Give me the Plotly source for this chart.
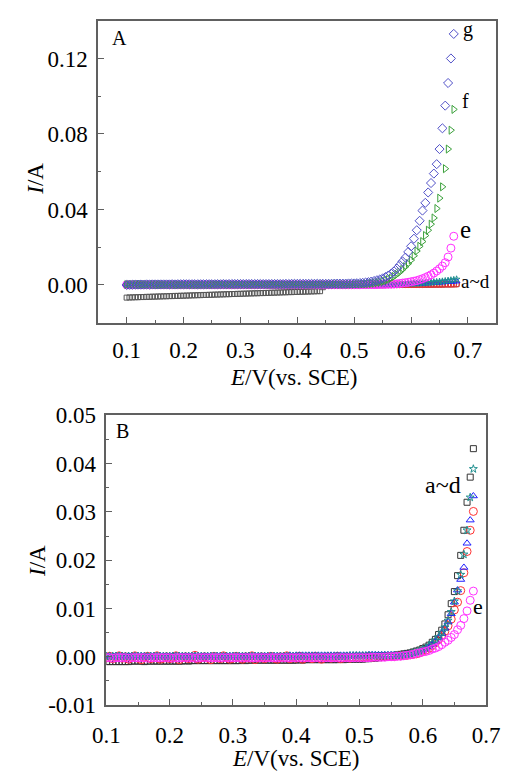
import plotly.graph_objects as go

# ---------------- data ----------------
E = [0.100, 0.105, 0.110, 0.115, 0.120, 0.125, 0.130, 0.135, 0.140, 0.145,
     0.150, 0.155, 0.160, 0.165, 0.170, 0.175, 0.180, 0.185, 0.190, 0.195,
     0.200, 0.205, 0.210, 0.215, 0.220, 0.225, 0.230, 0.235, 0.240, 0.245,
     0.250, 0.255, 0.260, 0.265, 0.270, 0.275, 0.280, 0.285, 0.290, 0.295,
     0.300, 0.305, 0.310, 0.315, 0.320, 0.325, 0.330, 0.335, 0.340, 0.345,
     0.350, 0.355, 0.360, 0.365, 0.370, 0.375, 0.380, 0.385, 0.390, 0.395,
     0.400, 0.405, 0.410, 0.415, 0.420, 0.425, 0.430, 0.435, 0.440, 0.445,
     0.450, 0.455, 0.460, 0.465, 0.470, 0.475, 0.480, 0.485, 0.490, 0.495,
     0.500, 0.505, 0.510, 0.515, 0.520, 0.525, 0.530, 0.535, 0.540, 0.545,
     0.550, 0.555, 0.560, 0.565, 0.570, 0.575, 0.580, 0.585, 0.590, 0.595,
     0.600, 0.605, 0.610, 0.615, 0.620, 0.625, 0.630, 0.635, 0.640, 0.645,
     0.650, 0.655, 0.660, 0.665, 0.670, 0.675, 0.680]

# Panel A currents (A)
IA_a = [-0.0067, -0.0066, -0.0066, -0.0065, -0.0065, -0.0064, -0.0064, -0.0063, -0.0063, -0.0062,
        -0.0062, -0.0061, -0.0061, -0.0060, -0.0060, -0.0059, -0.0059, -0.0058, -0.0058, -0.0057,
        -0.0057, -0.0056, -0.0056, -0.0055, -0.0055, -0.0054, -0.0054, -0.0053, -0.0053, -0.0052,
        -0.0052, -0.0051, -0.0051, -0.0050, -0.0050, -0.0049, -0.0049, -0.0048, -0.0048, -0.0047,
        -0.0047, -0.0046, -0.0046, -0.0045, -0.0045, -0.0044, -0.0044, -0.0043, -0.0043, -0.0042,
        -0.0042, -0.0041, -0.0041, -0.0040, -0.0040, -0.0039, -0.0039, -0.0038, -0.0038, -0.0037,
        -0.0037, -0.0036, -0.0036, -0.0035, -0.0035, -0.0034, -0.0034, -0.0033, -0.0033, -0.0012,
        -0.0004, -0.0003, -0.0003, -0.0002, -0.0002, -0.0002, -0.0002, -0.0002, -0.0002, -0.0001,
        -0.0001, -0.0001, -0.0001, -0.0001, -0.0001, -0.0001, -0.0001, -0.0001, -0.0001, -0.0001,
        -0.0001, 0.0000, 0.0000, 0.0000, 0.0000, 0.0000, 0.0000, 0.0000, 0.0000, 0.0000,
        0.0000, 0.0000, 0.0000, 0.0001, 0.0001, 0.0001, 0.0001, 0.0001, 0.0002, 0.0002,
        0.0002, 0.0002, 0.0003, 0.0003, 0.0003, 0.0004, 0.0004]
IA_b = [0.0000, 0.0001, 0.0000, 0.0001, 0.0000, 0.0001, 0.0001, 0.0000, 0.0001, 0.0001,
        0.0001, 0.0001, 0.0000, 0.0001, 0.0001, 0.0001, 0.0001, 0.0001, 0.0001, 0.0001,
        0.0001, 0.0001, 0.0001, 0.0001, 0.0001, 0.0001, 0.0001, 0.0001, 0.0001, 0.0001,
        0.0001, 0.0001, 0.0001, 0.0001, 0.0001, 0.0001, 0.0001, 0.0001, 0.0001, 0.0001,
        0.0001, 0.0001, 0.0001, 0.0001, 0.0001, 0.0001, 0.0001, 0.0001, 0.0001, 0.0001,
        0.0001, 0.0001, 0.0001, 0.0001, 0.0001, 0.0001, 0.0001, 0.0001, 0.0001, 0.0001,
        0.0001, 0.0001, 0.0001, 0.0001, 0.0001, 0.0001, 0.0001, 0.0001, 0.0001, 0.0001,
        0.0001, 0.0001, 0.0001, 0.0001, 0.0001, 0.0001, 0.0001, 0.0001, 0.0001, 0.0001,
        0.0001, 0.0001, 0.0001, 0.0001, 0.0001, 0.0001, 0.0001, 0.0001, 0.0001, 0.0001,
        0.0001, 0.0001, 0.0001, 0.0001, 0.0001, 0.0001, 0.0001, 0.0002, 0.0002, 0.0002,
        0.0002, 0.0002, 0.0002, 0.0002, 0.0002, 0.0003, 0.0003, 0.0003, 0.0003, 0.0003,
        0.0003, 0.0003, 0.0004, 0.0004, 0.0004, 0.0004, 0.0005]
IA_c = [0.0002, 0.0002, 0.0002, 0.0002, 0.0002, 0.0002, 0.0002, 0.0002, 0.0002, 0.0002,
        0.0002, 0.0002, 0.0002, 0.0002, 0.0002, 0.0002, 0.0002, 0.0002, 0.0002, 0.0002,
        0.0002, 0.0002, 0.0002, 0.0002, 0.0002, 0.0002, 0.0002, 0.0002, 0.0002, 0.0002,
        0.0002, 0.0002, 0.0002, 0.0002, 0.0002, 0.0002, 0.0002, 0.0002, 0.0002, 0.0002,
        0.0002, 0.0002, 0.0002, 0.0002, 0.0002, 0.0002, 0.0002, 0.0002, 0.0002, 0.0002,
        0.0002, 0.0002, 0.0002, 0.0002, 0.0002, 0.0002, 0.0002, 0.0002, 0.0002, 0.0002,
        0.0002, 0.0002, 0.0002, 0.0002, 0.0002, 0.0002, 0.0002, 0.0002, 0.0002, 0.0002,
        0.0002, 0.0002, 0.0002, 0.0002, 0.0002, 0.0002, 0.0002, 0.0002, 0.0002, 0.0002,
        0.0003, 0.0003, 0.0003, 0.0003, 0.0003, 0.0003, 0.0003, 0.0003, 0.0003, 0.0003,
        0.0003, 0.0003, 0.0003, 0.0003, 0.0004, 0.0004, 0.0004, 0.0004, 0.0005, 0.0005,
        0.0005, 0.0006, 0.0006, 0.0007, 0.0007, 0.0008, 0.0009, 0.0010, 0.0011, 0.0012,
        0.0013, 0.0014, 0.0015, 0.0016, 0.0017, 0.0018, 0.0019]
IA_d = [0.0001, 0.0001, 0.0001, 0.0001, 0.0001, 0.0001, 0.0001, 0.0001, 0.0001, 0.0001,
        0.0001, 0.0001, 0.0001, 0.0001, 0.0001, 0.0001, 0.0001, 0.0001, 0.0001, 0.0001,
        0.0001, 0.0001, 0.0001, 0.0001, 0.0001, 0.0001, 0.0001, 0.0001, 0.0001, 0.0001,
        0.0001, 0.0001, 0.0001, 0.0001, 0.0001, 0.0001, 0.0001, 0.0001, 0.0001, 0.0001,
        0.0001, 0.0001, 0.0001, 0.0001, 0.0001, 0.0001, 0.0001, 0.0001, 0.0001, 0.0001,
        0.0001, 0.0001, 0.0001, 0.0001, 0.0001, 0.0001, 0.0001, 0.0001, 0.0001, 0.0001,
        0.0001, 0.0001, 0.0001, 0.0001, 0.0001, 0.0001, 0.0001, 0.0001, 0.0001, 0.0001,
        0.0001, 0.0001, 0.0001, 0.0001, 0.0001, 0.0001, 0.0001, 0.0001, 0.0001, 0.0001,
        0.0001, 0.0001, 0.0001, 0.0001, 0.0002, 0.0002, 0.0002, 0.0002, 0.0002, 0.0002,
        0.0002, 0.0002, 0.0003, 0.0003, 0.0003, 0.0004, 0.0004, 0.0005, 0.0005, 0.0006,
        0.0006, 0.0007, 0.0008, 0.0009, 0.0010, 0.0011, 0.0012, 0.0013, 0.0015, 0.0016,
        0.0018, 0.0019, 0.0021, 0.0023, 0.0025, 0.0027, 0.0030]
IA_e = [0.0001, 0.0001, 0.0001, 0.0001, 0.0001, 0.0001, 0.0001, 0.0001, 0.0001, 0.0001,
        0.0001, 0.0001, 0.0001, 0.0001, 0.0001, 0.0001, 0.0001, 0.0001, 0.0001, 0.0001,
        0.0001, 0.0001, 0.0001, 0.0001, 0.0001, 0.0001, 0.0001, 0.0001, 0.0001, 0.0001,
        0.0001, 0.0001, 0.0001, 0.0001, 0.0001, 0.0001, 0.0001, 0.0001, 0.0001, 0.0001,
        0.0001, 0.0001, 0.0001, 0.0001, 0.0001, 0.0001, 0.0001, 0.0001, 0.0001, 0.0001,
        0.0001, 0.0001, 0.0001, 0.0001, 0.0001, 0.0001, 0.0001, 0.0001, 0.0001, 0.0001,
        0.0001, 0.0001, 0.0001, 0.0001, 0.0001, 0.0001, 0.0001, 0.0001, 0.0001, 0.0001,
        0.0001, 0.0001, 0.0001, 0.0001, 0.0001, 0.0001, 0.0001, 0.0001, 0.0001, 0.0001,
        0.0001, 0.0001, 0.0001, 0.0002, 0.0002, 0.0002, 0.0002, 0.0002, 0.0002, 0.0003,
        0.0003, 0.0003, 0.0004, 0.0004, 0.0005, 0.0006, 0.0008, 0.0010, 0.0012, 0.0014,
        0.0017, 0.0020, 0.0023, 0.0028, 0.0033, 0.0039, 0.0046, 0.0054, 0.0063, 0.0074,
        0.0086, 0.0100, 0.0118, 0.0148, 0.0195, 0.0258]
IA_f = [0.0002, 0.0002, 0.0002, 0.0002, 0.0002, 0.0002, 0.0002, 0.0002, 0.0002, 0.0002,
        0.0002, 0.0002, 0.0002, 0.0002, 0.0002, 0.0002, 0.0002, 0.0002, 0.0002, 0.0002,
        0.0002, 0.0002, 0.0002, 0.0002, 0.0002, 0.0002, 0.0002, 0.0002, 0.0002, 0.0002,
        0.0003, 0.0003, 0.0003, 0.0003, 0.0003, 0.0003, 0.0003, 0.0003, 0.0003, 0.0003,
        0.0003, 0.0003, 0.0003, 0.0003, 0.0003, 0.0003, 0.0003, 0.0003, 0.0003, 0.0003,
        0.0003, 0.0003, 0.0003, 0.0003, 0.0003, 0.0003, 0.0003, 0.0003, 0.0003, 0.0003,
        0.0003, 0.0003, 0.0003, 0.0003, 0.0003, 0.0003, 0.0003, 0.0003, 0.0004, 0.0004,
        0.0004, 0.0004, 0.0004, 0.0004, 0.0004, 0.0004, 0.0004, 0.0004, 0.0004, 0.0004,
        0.0004, 0.0005, 0.0005, 0.0006, 0.0006, 0.0007, 0.0008, 0.0010, 0.0012, 0.0015,
        0.0018, 0.0023, 0.0029, 0.0036, 0.0045, 0.0056, 0.0068, 0.0082, 0.0097, 0.0113,
        0.0132, 0.0155, 0.0180, 0.0205, 0.0230, 0.0262, 0.0290, 0.0322, 0.0355, 0.0405,
        0.0460, 0.0520, 0.0616, 0.0720, 0.0820, 0.0930]
IA_g = [0.0000, 0.0001, 0.0001, 0.0002, 0.0002, 0.0002, 0.0002, 0.0003, 0.0002, 0.0003,
        0.0003, 0.0003, 0.0003, 0.0003, 0.0003, 0.0003, 0.0004, 0.0003, 0.0004, 0.0004,
        0.0004, 0.0004, 0.0004, 0.0004, 0.0004, 0.0004, 0.0004, 0.0004, 0.0004, 0.0004,
        0.0004, 0.0004, 0.0004, 0.0004, 0.0005, 0.0004, 0.0005, 0.0005, 0.0005, 0.0005,
        0.0005, 0.0005, 0.0005, 0.0005, 0.0005, 0.0005, 0.0005, 0.0005, 0.0005, 0.0005,
        0.0005, 0.0005, 0.0005, 0.0005, 0.0005, 0.0005, 0.0006, 0.0005, 0.0006, 0.0006,
        0.0006, 0.0006, 0.0006, 0.0006, 0.0006, 0.0006, 0.0006, 0.0006, 0.0006, 0.0006,
        0.0006, 0.0006, 0.0006, 0.0007, 0.0007, 0.0007, 0.0007, 0.0007, 0.0008, 0.0008,
        0.0008, 0.0009, 0.0010, 0.0011, 0.0013, 0.0015, 0.0018, 0.0021, 0.0025, 0.0029,
        0.0035, 0.0042, 0.0050, 0.0060, 0.0072, 0.0087, 0.0105, 0.0125, 0.0145, 0.0175,
        0.0205, 0.0245, 0.0290, 0.0340, 0.0394, 0.0435, 0.0490, 0.0540, 0.0590, 0.0640,
        0.0720, 0.0830, 0.0950, 0.1070, 0.1200, 0.1330]

# Panel B currents (A)
IB_a = [-0.0010, -0.0010, -0.0010, -0.0010, -0.0010, -0.0010, -0.0010, -0.0010, -0.0009, -0.0009,
        -0.0009, -0.0009, -0.0010, -0.0009, -0.0009, -0.0009, -0.0009, -0.0009, -0.0009, -0.0009,
        -0.0009, -0.0009, -0.0009, -0.0009, -0.0009, -0.0008, -0.0009, -0.0008, -0.0008, -0.0008,
        -0.0008, -0.0008, -0.0008, -0.0008, -0.0008, -0.0008, -0.0008, -0.0008, -0.0008, -0.0008,
        -0.0008, -0.0008, -0.0008, -0.0007, -0.0008, -0.0007, -0.0007, -0.0007, -0.0007, -0.0007,
        -0.0007, -0.0007, -0.0007, -0.0007, -0.0007, -0.0007, -0.0007, -0.0007, -0.0007, -0.0007,
        -0.0007, -0.0006, -0.0007, -0.0006, -0.0006, -0.0006, -0.0006, -0.0006, -0.0006, -0.0006,
        -0.0006, -0.0006, -0.0006, -0.0006, -0.0005, -0.0006, -0.0005, -0.0005, -0.0005, -0.0005,
        -0.0005, -0.0005, -0.0004, -0.0004, -0.0003, -0.0003, -0.0002, -0.0001, 0.0000, 0.0001,
        0.0002, 0.0003, 0.0004, 0.0005, 0.0006, 0.0007, 0.0008, 0.0010, 0.0012, 0.0014,
        0.0017, 0.0020, 0.0024, 0.0030, 0.0036, 0.0046, 0.0055, 0.0068, 0.0087, 0.0110,
        0.0135, 0.0168, 0.0210, 0.0262, 0.0320, 0.0372, 0.0431]
IB_b = [-0.0002, 0.0001, -0.0004, -0.0001, 0.0002, -0.0003, 0.0000, -0.0005, -0.0001, 0.0002,
        -0.0003, -0.0006, -0.0001, 0.0001, -0.0004, -0.0002, 0.0002, -0.0005, -0.0003, 0.0000,
        -0.0004, -0.0001, 0.0002, -0.0006, -0.0002, 0.0000, -0.0004, -0.0001, 0.0003, -0.0005,
        -0.0002, 0.0000, -0.0003, -0.0006, 0.0001, -0.0002, -0.0004, 0.0002, -0.0001, -0.0005,
        -0.0003, 0.0001, -0.0002, -0.0005, 0.0000, -0.0003, 0.0002, -0.0006, -0.0002, 0.0000,
        -0.0004, -0.0001, 0.0001, -0.0003, -0.0005, 0.0000, -0.0002, 0.0002, -0.0004, -0.0001,
        -0.0003, 0.0001, -0.0005, -0.0002, 0.0000, -0.0004, 0.0001, -0.0002, -0.0005, -0.0001,
        0.0000, -0.0003, -0.0001, 0.0001, -0.0004, -0.0002, 0.0000, -0.0003, -0.0001, 0.0000,
        -0.0002, 0.0000, -0.0001, 0.0001, -0.0001, 0.0000, 0.0001, 0.0000, 0.0001, 0.0001,
        0.0001, 0.0001, 0.0002, 0.0002, 0.0003, 0.0003, 0.0004, 0.0005, 0.0006, 0.0008,
        0.0011, 0.0014, 0.0018, 0.0023, 0.0029, 0.0036, 0.0044, 0.0053, 0.0064, 0.0078,
        0.0097, 0.0113, 0.0137, 0.0174, 0.0218, 0.0262, 0.0301]
IB_c = [0.0002, 0.0002, 0.0001, 0.0002, 0.0002, 0.0002, 0.0001, 0.0002, 0.0002, 0.0002,
        0.0002, 0.0002, 0.0002, 0.0001, 0.0002, 0.0002, 0.0002, 0.0002, 0.0002, 0.0002,
        0.0002, 0.0002, 0.0002, 0.0002, 0.0002, 0.0002, 0.0002, 0.0002, 0.0002, 0.0002,
        0.0002, 0.0002, 0.0002, 0.0002, 0.0002, 0.0002, 0.0002, 0.0002, 0.0002, 0.0002,
        0.0002, 0.0002, 0.0002, 0.0002, 0.0002, 0.0002, 0.0002, 0.0002, 0.0002, 0.0002,
        0.0002, 0.0002, 0.0002, 0.0002, 0.0002, 0.0002, 0.0002, 0.0002, 0.0003, 0.0002,
        0.0003, 0.0003, 0.0003, 0.0003, 0.0003, 0.0003, 0.0003, 0.0003, 0.0003, 0.0003,
        0.0003, 0.0003, 0.0003, 0.0003, 0.0003, 0.0003, 0.0003, 0.0003, 0.0003, 0.0003,
        0.0003, 0.0003, 0.0003, 0.0004, 0.0004, 0.0004, 0.0004, 0.0004, 0.0004, 0.0004,
        0.0004, 0.0004, 0.0004, 0.0004, 0.0005, 0.0005, 0.0006, 0.0007, 0.0009, 0.0011,
        0.0014, 0.0017, 0.0021, 0.0026, 0.0032, 0.0039, 0.0048, 0.0059, 0.0072, 0.0089,
        0.0113, 0.0138, 0.0160, 0.0185, 0.0235, 0.0283, 0.0333]
IB_d = [0.0001, 0.0001, 0.0001, 0.0001, 0.0001, 0.0001, 0.0001, 0.0001, 0.0001, 0.0001,
        0.0001, 0.0001, 0.0001, 0.0001, 0.0001, 0.0001, 0.0001, 0.0001, 0.0001, 0.0001,
        0.0001, 0.0001, 0.0001, 0.0001, 0.0001, 0.0001, 0.0001, 0.0001, 0.0001, 0.0001,
        0.0001, 0.0001, 0.0001, 0.0001, 0.0001, 0.0001, 0.0001, 0.0001, 0.0001, 0.0001,
        0.0001, 0.0001, 0.0001, 0.0001, 0.0001, 0.0001, 0.0001, 0.0001, 0.0001, 0.0001,
        0.0001, 0.0001, 0.0001, 0.0001, 0.0001, 0.0001, 0.0001, 0.0001, 0.0001, 0.0001,
        0.0001, 0.0001, 0.0001, 0.0001, 0.0001, 0.0001, 0.0001, 0.0001, 0.0001, 0.0001,
        0.0001, 0.0001, 0.0001, 0.0001, 0.0001, 0.0001, 0.0001, 0.0002, 0.0002, 0.0002,
        0.0002, 0.0002, 0.0002, 0.0002, 0.0002, 0.0002, 0.0002, 0.0002, 0.0002, 0.0002,
        0.0002, 0.0002, 0.0003, 0.0003, 0.0004, 0.0004, 0.0006, 0.0008, 0.0010, 0.0012,
        0.0015, 0.0018, 0.0023, 0.0028, 0.0034, 0.0041, 0.0050, 0.0061, 0.0075, 0.0093,
        0.0115, 0.0136, 0.0170, 0.0212, 0.0262, 0.0330, 0.0389]
IB_e = [-0.0002, -0.0002, -0.0003, -0.0002, -0.0002, -0.0002, -0.0002, -0.0003, -0.0002, -0.0002,
        -0.0002, -0.0002, -0.0002, -0.0003, -0.0002, -0.0002, -0.0002, -0.0002, -0.0002, -0.0002,
        -0.0002, -0.0003, -0.0002, -0.0002, -0.0002, -0.0002, -0.0002, -0.0002, -0.0003, -0.0002,
        -0.0002, -0.0002, -0.0002, -0.0002, -0.0002, -0.0002, -0.0002, -0.0002, -0.0002, -0.0002,
        -0.0002, -0.0002, -0.0002, -0.0002, -0.0002, -0.0002, -0.0002, -0.0002, -0.0002, -0.0002,
        -0.0002, -0.0002, -0.0002, -0.0002, -0.0002, -0.0002, -0.0002, -0.0002, -0.0002, -0.0002,
        -0.0002, -0.0002, -0.0002, -0.0002, -0.0002, -0.0002, -0.0002, -0.0002, -0.0002, -0.0002,
        -0.0002, -0.0002, -0.0002, -0.0002, -0.0002, -0.0002, -0.0002, -0.0002, -0.0002, -0.0002,
        -0.0002, -0.0002, -0.0002, -0.0002, -0.0001, -0.0001, -0.0001, -0.0001, -0.0001, 0.0000,
        0.0000, 0.0000, 0.0001, 0.0001, 0.0002, 0.0003, 0.0004, 0.0005, 0.0007, 0.0008,
        0.0010, 0.0011, 0.0013, 0.0016, 0.0018, 0.0021, 0.0025, 0.0030, 0.0034, 0.0040,
        0.0046, 0.0056, 0.0065, 0.0079, 0.0095, 0.0117, 0.0136]

# tick labels
XA_ticks = [0.1, 0.2, 0.3, 0.4, 0.5, 0.6, 0.7]
XA_labels = ["0.1", "0.2", "0.3", "0.4", "0.5", "0.6", "0.7"]
YA_ticks = [0.00, 0.04, 0.08, 0.12]
YA_labels = ["0.00", "0.04", "0.08", "0.12"]
YB_ticks = [-0.01, 0.00, 0.01, 0.02, 0.03, 0.04, 0.05]
YB_labels = ["-0.01", "0.00", "0.01", "0.02", "0.03", "0.04", "0.05"]

# ---------------- styles ----------------
FONT = "Liberation Serif"
W, H = 518, 780

styleA = [  # (data, symbol, color, size)
    (IA_a, "square-open", "#555555", 5),
    (IA_b, "circle-open", "#ff3030", 6),
    (IA_c, "triangle-up-open", "#2020ff", 6),
    (IA_d, "star-open", "#1f8f8f", 5),
    (IA_e, "circle-open", "#ff30ff", 8),
    (IA_f, "triangle-right-open", "#3aa03a", 7),
    (IA_g, "diamond-open", "#5050c8", 7),
]
styleB = [
    (IB_a, "square-open", "#333333", 6),
    (IB_b, "circle-open", "#ff3030", 8),
    (IB_c, "triangle-up-open", "#2020ff", 7),
    (IB_d, "star-open", "#1f8f8f", 6),
    (IB_e, "circle-open", "#ff30ff", 8),
]

fig = go.Figure()
for vals, sym, col, sz in styleA:
    fig.add_trace(go.Scatter(x=E[:len(vals)], y=vals, mode="markers", xaxis="x", yaxis="y",
                             marker=dict(symbol=sym, size=sz, color=col, line=dict(width=1, color=col))))
for vals, sym, col, sz in styleB:
    fig.add_trace(go.Scatter(x=E[:len(vals)], y=vals, mode="markers", xaxis="x2", yaxis="y2",
                             marker=dict(symbol=sym, size=sz, color=col, line=dict(width=1, color=col))))

axis_common = dict(showline=True, mirror=True, linecolor="#606060", linewidth=1.5,
                   ticks="inside", ticklen=6, tickwidth=1.2, tickcolor="#606060",
                   showgrid=False, zeroline=False,
                   tickfont=dict(family=FONT, size=23, color="black"))

fig.update_layout(
    width=W, height=H, margin=dict(l=0, r=0, t=0, b=0),
    paper_bgcolor="white", plot_bgcolor="white", showlegend=False,
    font=dict(family=FONT, color="black"),
    xaxis=dict(domain=[89 / W, 510 / W], range=[0.05, 0.75], anchor="y",
               tickvals=XA_ticks, ticktext=XA_labels,
               minor=dict(ticks="inside", ticklen=3, dtick=0.05, tick0=0.05, tickcolor="#606060"),
               ticklabelstandoff=6, **axis_common),
    yaxis=dict(domain=[1 - 321 / H, 1 - 9 / H], range=[-0.02, 0.14], anchor="x",
               tickvals=YA_ticks, ticktext=YA_labels,
               minor=dict(ticks="inside", ticklen=3, dtick=0.02, tick0=0, tickcolor="#606060"),
               ticklabelstandoff=4, **axis_common),
    xaxis2=dict(domain=[97.7 / W, 499 / W], range=[0.1, 0.7], anchor="y2",
                tickvals=XA_ticks, ticktext=XA_labels,
                minor=dict(ticks="inside", ticklen=3, dtick=0.05, tick0=0.05, tickcolor="#606060"),
                ticklabelstandoff=9, **axis_common),
    yaxis2=dict(domain=[1 - 716 / H, 1 - 416.7 / H], range=[-0.01, 0.05], anchor="x2",
                tickvals=YB_ticks, ticktext=YB_labels,
                minor=dict(ticks="inside", ticklen=3, dtick=0.005, tick0=0, tickcolor="#606060"),
                ticklabelstandoff=4, **axis_common),
)


def txt(text, x, y, size, xref="paper", yref="paper", angle=0):
    fig.add_annotation(text=text, x=x, y=y, xref=xref, yref=yref, showarrow=False,
                       textangle=angle, xanchor="center", yanchor="middle",
                       font=dict(family=FONT, size=size, color="black"))


# axis titles (paper positions from pixel centres)
txt("<i>I</i>/A", 23 / W, 1 - 172.5 / H, 23, angle=-90)
txt("<i>E</i>/V(vs. SCE)", 295.5 / W, 1 - 377.5 / H, 23)
txt("<i>I</i>/A", 25 / W, 1 - 567.5 / H, 23, angle=-90)
txt("<i>E</i>/V(vs. SCE)", 298 / W, 1 - 771 / H, 23)

# panel letters
txt("A", 111 / W, 1 - 26.7 / H, 20)
txt("B", 114.5 / W, 1 - 433.3 / H, 20)

# curve labels (data coordinates)
txt("g", 0.6995, 0.1356, 20, "x", "y")
txt("f", 0.6962, 0.0975, 20, "x", "y")
txt("e", 0.6957, 0.0292, 25, "x", "y")
txt("a~d", 0.7133, 0.0017, 19, "x", "y")
txt("a~d", 0.632, 0.0355, 24, "x2", "y2")
txt("e", 0.6866, 0.0105, 22, "x2", "y2")

fig.write_html("out.html")
